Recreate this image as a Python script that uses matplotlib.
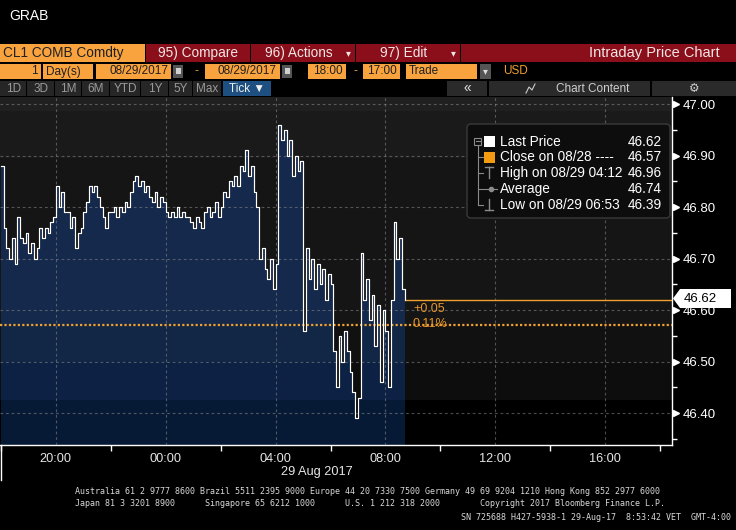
import numpy as np
import pandas as pd
import matplotlib
matplotlib.use("Agg")
import matplotlib.pyplot as plt
import matplotlib.dates as mdates
import matplotlib.transforms as mtrans
from matplotlib.ticker import MultipleLocator
from matplotlib.patches import Rectangle, Polygon, FancyBboxPatch

# CL1 tick prices, one every 6 minutes from the 18:00 open on 08/28
start_time = "2017-08-28 18:00"
step = "6min"
prices = [
    46.88, 46.76, 46.72, 46.70, 46.74, 46.69, 46.78, 46.74, 46.73, 46.75,
    46.71, 46.73, 46.70, 46.72, 46.76, 46.74, 46.76, 46.75, 46.77, 46.78,
    46.84, 46.80, 46.83, 46.79, 46.79, 46.76, 46.78, 46.72, 46.75, 46.76,
    46.79, 46.81, 46.84, 46.83, 46.84, 46.82, 46.80, 46.78, 46.76, 46.79,
    46.79, 46.80, 46.78, 46.80, 46.79, 46.81, 46.80, 46.83, 46.85, 46.86,
    46.84, 46.85, 46.83, 46.84, 46.82, 46.81, 46.83, 46.80, 46.82, 46.81,
    46.79, 46.78, 46.79, 46.78, 46.80, 46.78, 46.79, 46.78, 46.78, 46.77,
    46.76, 46.78, 46.77, 46.76, 46.79, 46.80, 46.78, 46.79, 46.81, 46.78,
    46.80, 46.83, 46.82, 46.85, 46.84, 46.86, 46.84, 46.88, 46.87, 46.91,
    46.86, 46.88, 46.83, 46.80, 46.70, 46.72, 46.68, 46.66, 46.70, 46.64,
    46.69, 46.96, 46.93, 46.95, 46.90, 46.93, 46.86, 46.90, 46.87, 46.89,
    46.56, 46.72, 46.66, 46.70, 46.64, 46.69, 46.65, 46.68, 46.62, 46.67,
    46.65, 46.52, 46.45, 46.55, 46.50, 46.56, 46.52, 46.48, 46.44, 46.39,
    46.43, 46.71, 46.62, 46.66, 46.58, 46.63, 46.53, 46.61, 46.46, 46.60,
    46.56, 46.45, 46.62, 46.77, 46.70, 46.74, 46.64, 46.62,
]

prev_close = 46.57
last_price = 46.62
change_txt = ["+0.05", "0.11%"]
y_ticks = [46.40, 46.50, 46.60, 46.70, 46.80, 46.90, 47.00]

legend_labels = ["Last Price", "Close on 08/28 ----", "High on 08/29 04:12",
                 "Average", "Low on 08/29 06:53"]
legend_values = ["46.62", "46.57", "46.96", "46.74", "46.39"]

period_buttons = ["1D", "3D", "1M", "6M", "YTD", "1Y", "5Y", "Max"]
footer_lines = [
    "Australia 61 2 9777 8600 Brazil 5511 2395 9000 Europe 44 20 7330 7500 "
    "Germany 49 69 9204 1210 Hong Kong 852 2977 6000",
    "Japan 81 3 3201 8900      Singapore 65 6212 1000      U.S. 1 212 318 2000"
    "        Copyright 2017 Bloomberg Finance L.P.",
    "SN 725688 H427-5938-1 29-Aug-17  8:53:42 VET  GMT-4:00",
]

ORANGE = "#f9a33f"
RED = "#8a0f1b"
AMBER = "#f0a030"
FONT = ["Liberation Sans", "DejaVu Sans"]
plt.rcParams["font.family"] = FONT

t = mdates.date2num(pd.date_range(start_time, periods=len(prices), freq=step).to_pydatetime())
p = np.array(prices)

fig = plt.figure(figsize=(7.36, 5.30), dpi=100, facecolor="black")
ax = fig.add_axes([0, 85 / 530, 672 / 736, 348 / 530])
ax.set_facecolor("black")
ylo, yhi = 46.338, 47.0136
ax.set_ylim(ylo, yhi)
ax.set_xlim(mdates.date2num(pd.Timestamp("2017-08-28 17:58")),
            mdates.date2num(pd.Timestamp("2017-08-29 18:26")))

# stepped background / fill shading
edges = [ylo, 46.425, 46.499, 46.571, 46.895, 46.986, yhi]
bg_cols = ["#000000", "#0d0d0d", "#111111", "#151515", "#1a1a1a", "#202020"]
fill_cols = ["#071a35", "#0c2143", "#122745", "#14294b", "#14294b", "#14294b"]
for lo, hi, bc, fc in zip(edges[:-1], edges[1:], bg_cols, fill_cols):
    ax.axhspan(lo, hi, color=bc, lw=0, zorder=0.5)
    ax.fill_between(t, np.clip(p, lo, hi), lo, step="post", color=fc, lw=0, zorder=1)

ax.step(t, p, where="post", color="white", lw=0.85, zorder=4)

ax.axhline(prev_close, color=AMBER, lw=1.6, ls=(0, (1, 1)), zorder=3)
ax.hlines(last_price, t[-1], ax.get_xlim()[1], color=AMBER, lw=1.0, zorder=3)
for i, s in enumerate(change_txt):
    ax.annotate(s, (t[-1], last_price), xytext=(6, -6.5 - 11 * i), textcoords="offset points",
                color="#e8952a", fontsize=9, ha="left", va="center", zorder=5)

ax.grid(True, which="major", color="#8a8a8a", alpha=0.55, ls=(0, (2.5, 2.5)), lw=0.8)
ax.set_axisbelow(False)

ax.xaxis.set_major_locator(mdates.HourLocator(byhour=range(0, 24, 4)))
ax.xaxis.set_minor_locator(mdates.HourLocator(byhour=range(2, 24, 4)))
ax.xaxis.set_major_formatter(mdates.DateFormatter("%H:%M"))
ax.tick_params(axis="x", which="major", length=0, pad=6, labelcolor="#e6e6e6", labelsize=9.2)
ax.tick_params(axis="x", which="minor", length=4.5, width=1, color="white", direction="out")

ax.yaxis.tick_right()
ax.set_yticks(y_ticks)
ax.yaxis.set_minor_locator(MultipleLocator(0.05))
ax.yaxis.set_major_formatter("{x:.2f}")
ax.tick_params(axis="y", which="major", length=0, pad=8, labelcolor="white", labelsize=9.5)
ax.tick_params(axis="y", which="minor", length=3.5, width=1, color="white", direction="out")

for side in ["top", "left"]:
    ax.spines[side].set_visible(False)
for side in ["right", "bottom"]:
    ax.spines[side].set_color("white")
    ax.spines[side].set_linewidth(1)

blend = mtrans.blended_transform_factory(ax.transAxes, ax.transData)
ax.plot([1 + 4 / 672] * len(y_ticks), y_ticks, marker=">", ls="none", ms=5, color="white",
        transform=blend, clip_on=False)

# overlay in pixel coordinates for the terminal chrome
ov = fig.add_axes([0, 0, 1, 1], zorder=5)
ov.set_xlim(0, 736)
ov.set_ylim(530, 0)
ov.axis("off")


def box(x, y, w, h, color):
    ov.add_patch(Rectangle((x, y), w, h, fc=color, ec="none"))


def txt(x, y, s, color="white", size=9, ha="left", **kw):
    ov.text(x, y, s, color=color, fontsize=size, ha=ha, va="center", **kw)


txt(9, 16, "GRAB", size=10)

# row 1
box(0, 44, 145, 18, ORANGE)
txt(3, 53, "CL1 COMB Comdty", color="#202020", size=9.8)
for x0, w, label, arrow in [(146, 104, "95) Compare", False), (251, 104, "96) Actions", True),
                            (356, 104, "97) Edit", True)]:
    box(x0, 44, w, 18, RED)
    txt(x0 + w / 2 - (4 if arrow else 0), 53, label, color="#f2e6e6", size=9.8, ha="center")
    if arrow:
        txt(x0 + w - 7, 53, "▾", color="#f2e6e6", size=7, ha="center")
box(461, 44, 275, 18, RED)
txt(720, 53, "Intraday Price Chart", color="#f2e6e6", size=10.5, ha="right")

# row 2
box(0, 64, 41, 15, ORANGE)
txt(38, 71.5, "1", color="#202020", size=8.5, ha="right")
box(43, 64, 50, 15, ORANGE)
txt(46, 71.5, "Day(s)", color="#202020", size=8.5)
for x0, w, s in [(96, 75, "08/29/2017"), (205, 75, "08/29/2017")]:
    box(x0, 64, w, 15, ORANGE)
    txt(x0 + w - 3, 71.5, s, color="#202020", size=8.5, ha="right")
    box(x0 + w + 2, 65, 10, 13, "#555555")
    box(x0 + w + 4.5, 68, 5, 6, "#d0d0d0")
txt(196, 71.5, "-", color=AMBER, size=8.5, ha="center")
box(308, 64, 38, 15, ORANGE)
txt(343, 71.5, "18:00", color="#202020", size=8.5, ha="right")
txt(355, 71.5, "-", color=AMBER, size=8.5, ha="center")
box(363, 64, 37, 15, ORANGE)
txt(397, 71.5, "17:00", color="#202020", size=8.5, ha="right")
box(406, 64, 71, 15, ORANGE)
txt(409, 71.5, "Trade", color="#202020", size=8.5)
box(480, 64, 11, 15, "#555555")
txt(485.5, 71.5, "▾", color="#dddddd", size=7, ha="center")
txt(503, 71.5, "USD", color=AMBER, size=8.5)

# row 3
seps = [0, 27, 55, 82, 110, 141, 169, 193, 222]
for (a, b), s in zip(zip(seps[:-1], seps[1:]), period_buttons):
    box(a, 81, b - a - 1, 15, "#262626")
    txt((a + b) / 2, 88.5, s, color="#9a9a9a", size=8.5, ha="center")
box(223, 81, 48, 15, "#1d4f80")
txt(247, 88.5, "Tick ▼", color="#f0f0f0", size=8.5, ha="center")
box(447, 81, 40, 15, "#2a2a2a")
txt(467, 88, "«", color="#dddddd", size=10, ha="center")
box(489, 81, 161, 15, "#2a2a2a")
ov.plot([526, 529, 532, 535], [93, 87, 90, 84], color="#cccccc", lw=0.8)
txt(593, 88.5, "Chart Content", color="#cfcfcf", size=8.5, ha="center")
box(652, 81, 84, 15, "#2a2a2a")
txt(694, 88.5, "⚙", color="#cfcfcf", size=8.5, ha="center", family="DejaVu Sans")

# legend box
ov.add_patch(FancyBboxPatch((467, 124), 203, 94, boxstyle="round,pad=0,rounding_size=4",
                            fc="#0d0d0d", ec="#3a3a3a", lw=1))
rows = [141.5, 157, 173, 189, 205]
gray = "#8a8a8a"
ov.plot([477.5, 477.5], [145, 205], color=gray, lw=0.8)
ov.add_patch(Rectangle((474, 137.5), 7, 7, fc="#0d0d0d", ec=gray, lw=0.8))
ov.plot([475.5, 479.5], [141, 141], color=gray, lw=0.8)
for yy in rows[1:]:
    ov.plot([477.5, 483], [yy, yy], color=gray, lw=0.8)
box(484, 136, 11, 11, "white")
box(484, 151.5, 11, 11, "#f39c12")
ov.plot([485, 493], [167, 167], color=gray, lw=1)
ov.plot([489, 489], [167, 178], color=gray, lw=1)
ov.plot([484, 497], [189, 189], color=gray, lw=0.8)
ov.plot([490.5], [189], marker="o", ms=3, color=gray)
ov.plot([489, 489], [199, 210], color=gray, lw=1)
ov.plot([485, 493], [210, 210], color=gray, lw=1)
for yy, lab, val in zip(rows, legend_labels, legend_values):
    txt(500, yy, lab, size=9.8)
    txt(662, yy, val, size=9.8, ha="right")

# last price tag
ov.add_patch(Polygon([(673, 298.5), (680, 289), (731, 289), (731, 308), (680, 308)],
                     closed=True, fc="white", ec="none"))
txt(684, 298.5, "%.2f" % last_price, color="black", size=9.5)

ov.plot([0.5, 0.5], [445, 480], color="white", lw=1)
txt(317, 472, "29 Aug 2017", color="#e6e6e6", size=9.2, ha="center")

txt(75, 491, footer_lines[0], color="#d8d8d8", size=6, family="DejaVu Sans Mono")
txt(75, 504, footer_lines[1], color="#d8d8d8", size=6, family="DejaVu Sans Mono")
txt(731, 517, footer_lines[2], color="#d8d8d8", size=6, ha="right", family="DejaVu Sans Mono")

fig.savefig("out.png", dpi=100, facecolor="black")
